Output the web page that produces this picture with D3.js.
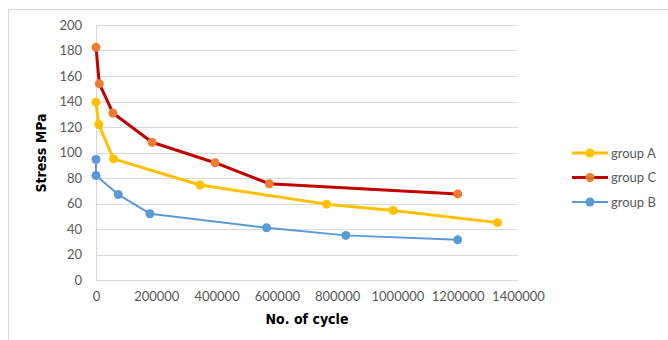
<!DOCTYPE html>
<html>
<head>
<meta charset="utf-8">
<script src="https://cdn.jsdelivr.net/npm/d3@7"></script>
<style>
body{margin:0;background:#fff;}
svg{display:block;}
</style>
</head>
<body>
<svg id="chart" width="668" height="340"></svg>
<script>
// ---- data ----
const groupA_x = [0, 9000, 58000, 345000, 765000, 986000, 1332000];
const groupA_y = [139.5, 122, 95, 74.5, 59.5, 54.5, 45];
const groupC_x = [0, 11000, 56000, 186000, 395000, 575000, 1200000];
const groupC_y = [182.5, 154, 131, 108, 92, 75.5, 67.5];
const groupB_x = [0, 0, 74000, 179000, 566000, 829000, 1200000];
const groupB_y = [94.5, 82, 67, 52, 41, 35, 31.5];
const seriesNames = ["group A", "group C", "group B"];
const xTicks = [0, 200000, 400000, 600000, 800000, 1000000, 1200000, 1400000];
const yTicks = [0, 20, 40, 60, 80, 100, 120, 140, 160, 180, 200];
const xTitle = "No. of cycle";
const yTitle = "Stress MPa";

const series = [
  {name: seriesNames[0], xs: groupA_x, ys: groupA_y, line: "#FFC000", marker: "#FFC000", w: 3},
  {name: seriesNames[1], xs: groupC_x, ys: groupC_y, line: "#C00000", marker: "#ED7D31", w: 3},
  {name: seriesNames[2], xs: groupB_x, ys: groupB_y, line: "#5B9BD5", marker: "#5B9BD5", w: 2}
];

const svg = d3.select("#chart");
const pL = 96, pR = 518, pT = 25, pB = 280;
const x = d3.scaleLinear().domain([0, 1400000]).range([pL, pR]);
const y = d3.scaleLinear().domain([0, 200]).range([pB, pT]);

// frame
svg.append("rect").attr("x", 8.5).attr("y", 9.5).attr("width", 700).attr("height", 400)
  .attr("fill", "none").attr("stroke", "#D9D9D9").attr("stroke-width", 1);

// gridlines
svg.append("g").selectAll("line").data(yTicks.filter(d => d > 0)).join("line")
  .attr("x1", pL).attr("x2", pR)
  .attr("y1", d => Math.round(y(d)) + 0.5).attr("y2", d => Math.round(y(d)) + 0.5)
  .attr("stroke", "#D9D9D9").attr("stroke-width", 1);

// axes lines
svg.append("line").attr("x1", pL).attr("x2", pR).attr("y1", pB + 0.5).attr("y2", pB + 0.5)
  .attr("stroke", "#D9D9D9");
svg.append("line").attr("x1", pL + 0.5).attr("x2", pL + 0.5).attr("y1", pT).attr("y2", pB)
  .attr("stroke", "#D9D9D9");

// y tick labels
const yAxis = d3.axisLeft(y).tickValues(yTicks).tickSize(0).tickPadding(14);
const gy = svg.append("g").attr("transform", `translate(${pL},0)`).call(yAxis);
gy.select(".domain").remove();
gy.selectAll("text").attr("fill", "#595959").style("font-family", "Lato, 'Open Sans', sans-serif").style("font-size", "13px");

// x tick labels
const xAxis = d3.axisBottom(x).tickValues(xTicks).tickSize(0).tickPadding(12).tickFormat(d3.format("d"));
const gx = svg.append("g").attr("transform", `translate(0,${pB})`).call(xAxis);
gx.select(".domain").remove();
gx.selectAll("text").attr("fill", "#595959").style("font-family", "Lato, 'Open Sans', sans-serif").style("font-size", "13px");

// titles
svg.append("text").attr("x", 307).attr("y", 324).attr("text-anchor", "middle")
  .style("font-family", "'Liberation Sans Narrow', 'DejaVu Sans Condensed', sans-serif")
  .style("font-weight", "bold").style("font-size", "14px").attr("fill", "#000").text(xTitle);
svg.append("text").attr("transform", "translate(46,153) rotate(-90)").attr("text-anchor", "middle")
  .style("font-family", "'Liberation Sans Narrow', 'DejaVu Sans Condensed', sans-serif")
  .style("font-weight", "bold").style("font-size", "14px").attr("fill", "#000").text(yTitle);

// lines & markers
const line = d3.line().x(d => x(d[0])).y(d => y(d[1]));
series.forEach(s => {
  const pts = s.xs.map((v, i) => [v, s.ys[i]]);
  svg.append("path").datum(pts).attr("d", line).attr("fill", "none")
    .attr("stroke", s.line).attr("stroke-width", s.w).attr("stroke-linejoin", "round");
  svg.append("g").selectAll("circle").data(pts).join("circle")
    .attr("cx", d => x(d[0])).attr("cy", d => y(d[1])).attr("r", 4.5).attr("fill", s.marker);
});

// legend
const lg = svg.append("g");
series.forEach((s, i) => {
  const ly = 153 + i * 24.5;
  lg.append("line").attr("x1", 572).attr("x2", 608).attr("y1", ly).attr("y2", ly)
    .attr("stroke", s.line).attr("stroke-width", s.w);
  lg.append("circle").attr("cx", 590).attr("cy", ly).attr("r", 4.5).attr("fill", s.marker);
  lg.append("text").attr("x", 611).attr("y", ly).attr("dy", "0.35em")
    .style("font-family", "Lato, 'Open Sans', sans-serif").style("font-size", "13px")
    .attr("fill", "#595959").text(s.name);
});
</script>
</body>
</html>
